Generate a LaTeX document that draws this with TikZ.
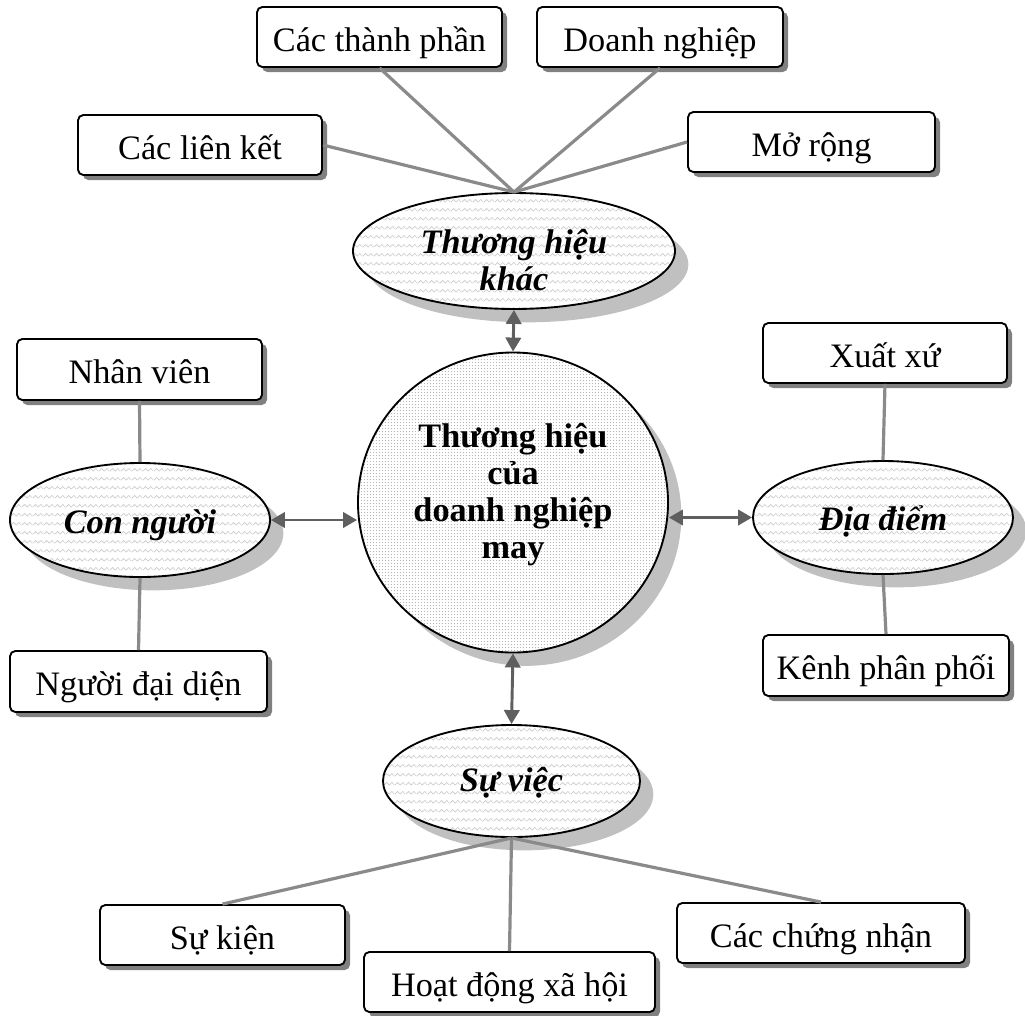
\documentclass[tikz,border=0pt]{standalone}
\usepackage{fontspec}
\setmainfont{Liberation Serif}
\usetikzlibrary{shapes.geometric,shadows,patterns.meta,arrows.meta}

\definecolor{linkgray}{HTML}{8A8A8A}
\definecolor{arrowgray}{HTML}{5F5F5F}
\definecolor{boxshadow}{HTML}{808080}
\definecolor{bubbleshadow}{HTML}{C0C0C0}
\definecolor{wavegray}{HTML}{CCCCCC}
\definecolor{dotgray}{HTML}{B0B0B0}

% light wavy fill for the satellite ellipses
\tikzdeclarepattern{
  name=softwave,
  type=uncolored,
  bottom left={(0pt,0pt)},
  top right={(8pt,6.5pt)},
  tile size={(8pt,6.5pt)},
  code={
    \draw[line width=0.5pt, line join=round]
      (0pt,2.2pt) -- (2pt,4.3pt) -- (4pt,2.2pt) -- (6pt,4.3pt) -- (8pt,2.2pt);
  }
}

% fine stipple for the central circle
\tikzdeclarepattern{
  name=finedots,
  type=uncolored,
  bottom left={(0pt,0pt)},
  top right={(2.2pt,2.2pt)},
  tile size={(2.2pt,2.2pt)},
  code={
    \fill (1.1pt,1.1pt) circle (0.42pt);
  }
}

\begin{document}
\begin{tikzpicture}[
  x=0.75pt, y=-0.75pt,
  boxdim/.style 2 args={minimum width=#1*0.75pt, minimum height=#2*0.75pt},
  tag/.style={draw=black, line width=1.4pt, rounded corners=4pt, fill=white,
    inner sep=0pt, font=\fontsize{25.7}{27.75}\selectfont,
    text height=22.5pt, text depth=1.5pt,
    general shadow={shadow xshift=3.75pt, shadow yshift=-3.75pt, fill=boxshadow}},
  bubble/.style={ellipse, draw=black, line width=1.4pt, inner sep=0pt, align=center,
    font=\fontsize{25.7}{27.75}\selectfont\bfseries\itshape,
    general shadow={shadow xshift=10pt, shadow yshift=-10pt, fill=bubbleshadow},
    preaction={fill=white}, pattern=softwave, pattern color=wavegray},
  core/.style={ellipse, draw=black, line width=1.4pt, inner sep=0pt, align=center,
    font=\fontsize{25.7}{27.75}\selectfont\bfseries,
    general shadow={shadow xshift=10pt, shadow yshift=-10pt, fill=bubbleshadow},
    preaction={fill=white}, pattern=finedots, pattern color=dotgray},
  link/.style={draw=linkgray, line width=2.4pt},
  twoway/.style={draw=arrowgray, line width=2.2pt,
    {Triangle[length=10.5pt,width=11.5pt]}-{Triangle[length=10.5pt,width=11.5pt]}}
]
\useasboundingbox (0,0) rectangle (1025,1015);

% central brand and the four groups around it
\node[core, boxdim={310}{300}, text height=86pt, text depth=1.5pt] (core) at (513,502.5)
  {Thương hiệu\\của\\doanh nghiệp\\may};
\node[bubble, boxdim={322}{112}, text height=60pt, text depth=1.5pt] (khac) at (514,251)
  {Thương hiệu\\khác};
\node[bubble, boxdim={260}{114}, text height=21pt, text depth=1.5pt] (connguoi) at (140,520)
  {Con người};
\node[bubble, boxdim={260}{113}, text height=21pt, text depth=1.5pt] (diadiem) at (883,517.5)
  {Địa điểm};
\node[bubble, boxdim={257}{112}, text height=16.5pt, text depth=1.5pt] (suviec) at (511.5,781)
  {Sự việc};

% labelled boxes
\node[tag, boxdim={245}{60}] (thanhphan) at (379.5,37) {Các thành phần};
\node[tag, boxdim={246}{60}] (doanhnghiep) at (660,37) {Doanh nghiệp};
\node[tag, boxdim={244}{60}] (lienket) at (200,145) {Các liên kết};
\node[tag, boxdim={247}{60}] (morong) at (811.5,142) {Mở rộng};
\node[tag, boxdim={245}{61}] (nhanvien) at (139.5,369.5) {Nhân viên};
\node[tag, boxdim={257}{61}] (daidien) at (138.5,681.5) {Người đại diện};
\node[tag, boxdim={244}{60}] (xuatxu) at (885,353) {Xuất xứ};
\node[tag, boxdim={246}{61}] (kenh) at (886,665.5) {Kênh phân phối};
\node[tag, boxdim={245}{60}] (sukien) at (222.5,935) {Sự kiện};
\node[tag, boxdim={291}{60}] (hoatdong) at (509.5,982) {Hoạt động xã hội};
\node[tag, boxdim={288}{60}] (chungnhan) at (821,933) {Các chứng nhận};

% plain connectors
\draw[link] (lienket.east) -- (khac.north);
\draw[link] (thanhphan.south) -- (khac.north);
\draw[link] (doanhnghiep.south) -- (khac.north);
\draw[link] (morong.west) -- (khac.north);
\draw[link] (nhanvien.south) -- (connguoi.north);
\draw[link] (connguoi.south) -- (daidien.north);
\draw[link] (xuatxu.south) -- (diadiem.north);
\draw[link] (diadiem.south) -- (kenh.north);
\draw[link] (suviec.south) -- (sukien.north);
\draw[link] (suviec.south) -- (hoatdong.north);
\draw[link] (suviec.south) -- (chungnhan.north);

% two-way arrows to the centre
\draw[twoway] (khac.south) -- (core.north);
\draw[twoway] (connguoi.east) -- (connguoi.east -| core.west);
\draw[twoway] (core.east |- diadiem.west) -- (diadiem.west);
\draw[twoway] (core.south) -- (suviec.north);
\end{tikzpicture}
\end{document}
